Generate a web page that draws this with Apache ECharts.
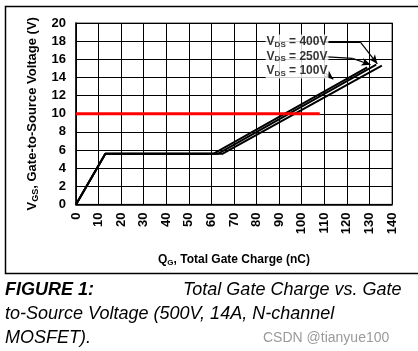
<!DOCTYPE html>
<html>
<head>
<meta charset="utf-8">
<script src="https://cdn.jsdelivr.net/npm/echarts@6/dist/echarts.min.js"></script>
<style>
  html, body { margin: 0; padding: 0; background: #fff; }
  #chart { width: 418px; height: 351px; }
</style>
</head>
<body>
<div id="chart"></div>
<script>
// gate charge curves (Qg nC, Vgs V)
const vds400 = [[0, 0], [13, 5.6], [61, 5.6], [129, 15.1]];
const vds250 = [[0, 0], [13, 5.6], [63, 5.6], [133, 15.4]];
const vds100 = [[0, 0], [13, 5.6], [65, 5.6], [135.5, 15.3]];
// red 10V drive level
const driveLine = [[0, 10], [108, 10]];
const vdsNames = ["400V", "250V", "100V"];
const xTicks = [0, 10, 20, 30, 40, 50, 60, 70, 80, 90, 100, 110, 120, 130, 140];
const yTicks = [0, 2, 4, 6, 8, 10, 12, 14, 16, 18, 20];

const chart = echarts.init(document.getElementById("chart"), null, { renderer: "canvas" });
const FONT = "Liberation Sans, Arial, sans-serif";

// label spots + leader lines, data coordinates
const labelAt = [[84, 17.9], [84, 16.3], [84, 14.7]];
const leaders = [
  [{ coord: [109.5, 17.9], symbol: "none" }, { coord: [126, 17.9], symbol: "none" }],
  [{ coord: [126, 17.9], symbol: "none" }, { coord: [133.5, 15.5], symbol: "arrow" }],
  [{ coord: [109.5, 16.3], symbol: "none" }, { coord: [122.5, 16.1], symbol: "none" }],
  [{ coord: [122.5, 16.1], symbol: "none" }, { coord: [130.5, 15.4], symbol: "arrow" }],
  [{ coord: [110.5, 14.5], symbol: "none" }, { coord: [114, 13.8], symbol: "arrow" }]
];

function curve(name, data) {
  return {
    name: name,
    type: "line",
    data: data,
    symbol: "none",
    lineStyle: { color: "#000", width: 2 },
    z: 3,
    animation: false
  };
}

const option = {
  animation: false,
  grid: {
    left: 76, right: 26, top: 23, bottom: 146.5,
    show: true, borderColor: "#888", borderWidth: 1.5
  },
  xAxis: {
    type: "value", min: 0, max: 140, interval: 10,
    name: "{b|Q}{s|G}{b|, Total Gate Charge (nC)}",
    nameLocation: "middle", nameGap: 48,
    nameTextStyle: {
      rich: {
        b: { fontFamily: FONT, fontWeight: "bold", fontSize: 12, color: "#000" },
        s: { fontFamily: FONT, fontWeight: "bold", fontSize: 8, color: "#000", verticalAlign: "bottom", padding: [6, 0, 0, 0] }
      }
    },
    axisLine: { show: true, lineStyle: { color: "#000", width: 1.5 } },
    axisTick: { show: false },
    splitLine: { show: true, lineStyle: { color: "#000", width: 1 } },
    axisLabel: {
      rotate: 90, margin: 8, fontFamily: FONT, fontWeight: "bold", fontSize: 13, color: "#000",
      formatter: v => (xTicks.indexOf(v) >= 0 ? String(v) : "")
    }
  },
  yAxis: {
    type: "value", min: 0, max: 20, interval: 2,
    name: "{b|V}{s|GS}{b|, Gate-to-Source Voltage (V)}",
    nameLocation: "middle", nameGap: 36,
    nameTextStyle: {
      rich: {
        b: { fontFamily: FONT, fontWeight: "bold", fontSize: 13, color: "#000" },
        s: { fontFamily: FONT, fontWeight: "bold", fontSize: 9, color: "#000", verticalAlign: "bottom", padding: [6, 0, 0, 0] }
      }
    },
    axisLine: { show: true, lineStyle: { color: "#000", width: 1.5 } },
    axisTick: { show: false },
    splitLine: { show: true, lineStyle: { color: "#000", width: 1 } },
    axisLabel: {
      margin: 10, fontFamily: FONT, fontWeight: "bold", fontSize: 13, color: "#000",
      formatter: v => (yTicks.indexOf(v) >= 0 ? String(v) : "")
    }
  },
  series: [
    curve("VDS = 400V", vds400),
    curve("VDS = 250V", vds250),
    curve("VDS = 100V", vds100),
    {
      name: "10V",
      type: "line",
      data: driveLine,
      symbol: "none",
      lineStyle: { color: "#ff0000", width: 3 },
      z: 4,
      markLine: {
        silent: true,
        symbolSize: [6, 9],
        label: { show: false },
        lineStyle: { color: "#000", width: 1.2, type: "solid" },
        data: leaders
      }
    },
    {
      name: "labels",
      type: "scatter",
      symbolSize: 0,
      z: 5,
      data: labelAt.map((p, i) => ({ value: p, name: vdsNames[i] })),
      label: {
        show: true,
        position: "right",
        distance: 0,
        backgroundColor: "#fff",
        padding: [1, 1, 1, 1],
        formatter: p => "{b|V}{s|DS}{b| = " + p.name + "}",
        rich: {
          b: { fontFamily: FONT, fontWeight: "bold", fontSize: 12, color: "#000" },
          s: { fontFamily: FONT, fontWeight: "bold", fontSize: 8, color: "#000", verticalAlign: "bottom", padding: [5, 0, 0, 0] }
        }
      }
    }
  ],
  graphic: [
    {
      type: "rect", silent: true,
      shape: { x: 5.5, y: 6.5, width: 430, height: 267 },
      style: { fill: "none", stroke: "#000", lineWidth: 1.5 }
    },
    {
      type: "text", left: 5, top: 281,
      style: { text: "FIGURE 1:", font: "italic bold 18px " + FONT, fill: "#000" }
    },
    {
      type: "text", left: 183, top: 281,
      style: { text: "Total Gate Charge vs. Gate", font: "italic 18px " + FONT, fill: "#000" }
    },
    {
      type: "text", left: 5, top: 305,
      style: { text: "to-Source Voltage (500V, 14A, N-channel", font: "italic 18px " + FONT, fill: "#000" }
    },
    {
      type: "text", left: 5, top: 329,
      style: { text: "MOSFET).", font: "italic 18px " + FONT, fill: "#000" }
    },
    {
      type: "text", left: 263, top: 331,
      style: { text: "CSDN @tianyue100", font: "14px " + FONT, fill: "#9a9a9a" }
    }
  ]
};

chart.setOption(option);
</script>
</body>
</html>
